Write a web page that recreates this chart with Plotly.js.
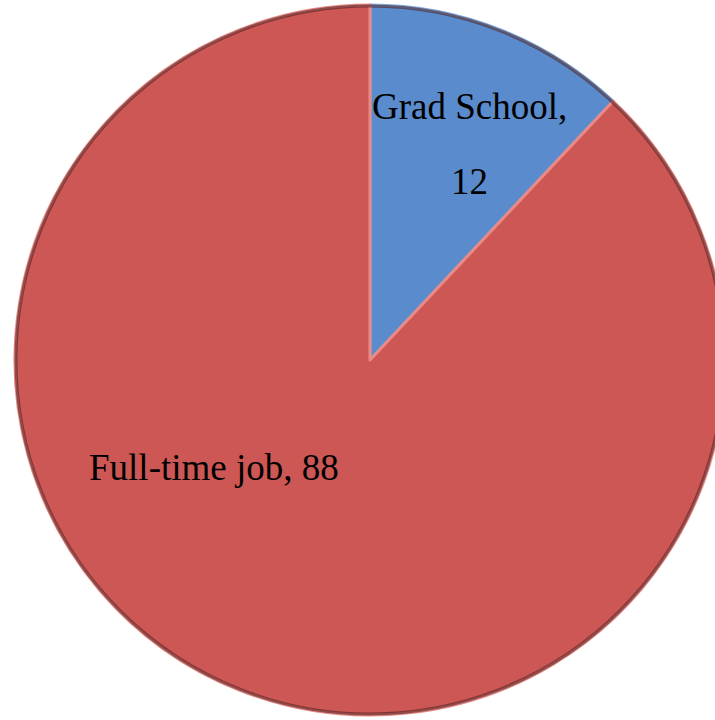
<!DOCTYPE html>
<html>
<head>
<meta charset="utf-8">
<script src="https://cdn.plot.ly/plotly-3.0.1.min.js"></script>
<style>
html, body { margin: 0; padding: 0; overflow: hidden; background: #fff; }
#chart { width: 740px; height: 720px; }
</style>
</head>
<body>
<div id="chart"></div>
<script>
const categories = ["Grad School", "Full-time job"];
const values = [12, 88];
const sliceColors = ["#5A8BCC", "#CD5754"];
const edgeColors = ["#7FA8DE", "#E98A86"];

const W = 740, H = 720;
const cx = 370, cy = 360, r = 355;

const trace = {
  type: "pie",
  labels: categories,
  values: values,
  sort: false,
  direction: "clockwise",
  rotation: 0,
  textinfo: "none",
  hoverinfo: "label+value",
  showlegend: false,
  marker: { colors: sliceColors, line: { color: edgeColors, width: 3 } },
  domain: { x: [(cx - r) / W, (cx + r) / W], y: [1 - (cy + r) / H, 1 - (cy - r) / H] }
};

const font = { family: "Liberation Serif, serif", size: 37, color: "#000" };
function ann(px, py, text) {
  return { x: px / W, y: 1 - py / H, text: text, showarrow: false, xref: "paper", yref: "paper",
           xanchor: "center", yanchor: "middle", font: font };
}
const annotations = [
  ann(470, 106, categories[0] + ","),
  ann(470, 181, String(values[0])),
  ann(214, 467, categories[1] + ", " + values[1])
];

const layout = {
  width: W, height: H,
  margin: { l: 0, r: 0, t: 0, b: 0 },
  paper_bgcolor: "#fff",
  annotations: annotations,
  shapes: [
    { type: "circle", xref: "paper", yref: "paper", layer: "above",
      x0: (cx - r + 1) / W, x1: (cx + r - 1) / W, y0: 1 - (cy + r - 1) / H, y1: 1 - (cy - r + 1) / H,
      line: { color: "rgba(70,25,25,0.55)", width: 3 } }
  ]
};

Plotly.newPlot("chart", [trace], layout, { displayModeBar: false, staticPlot: true });
</script>
</body>
</html>
